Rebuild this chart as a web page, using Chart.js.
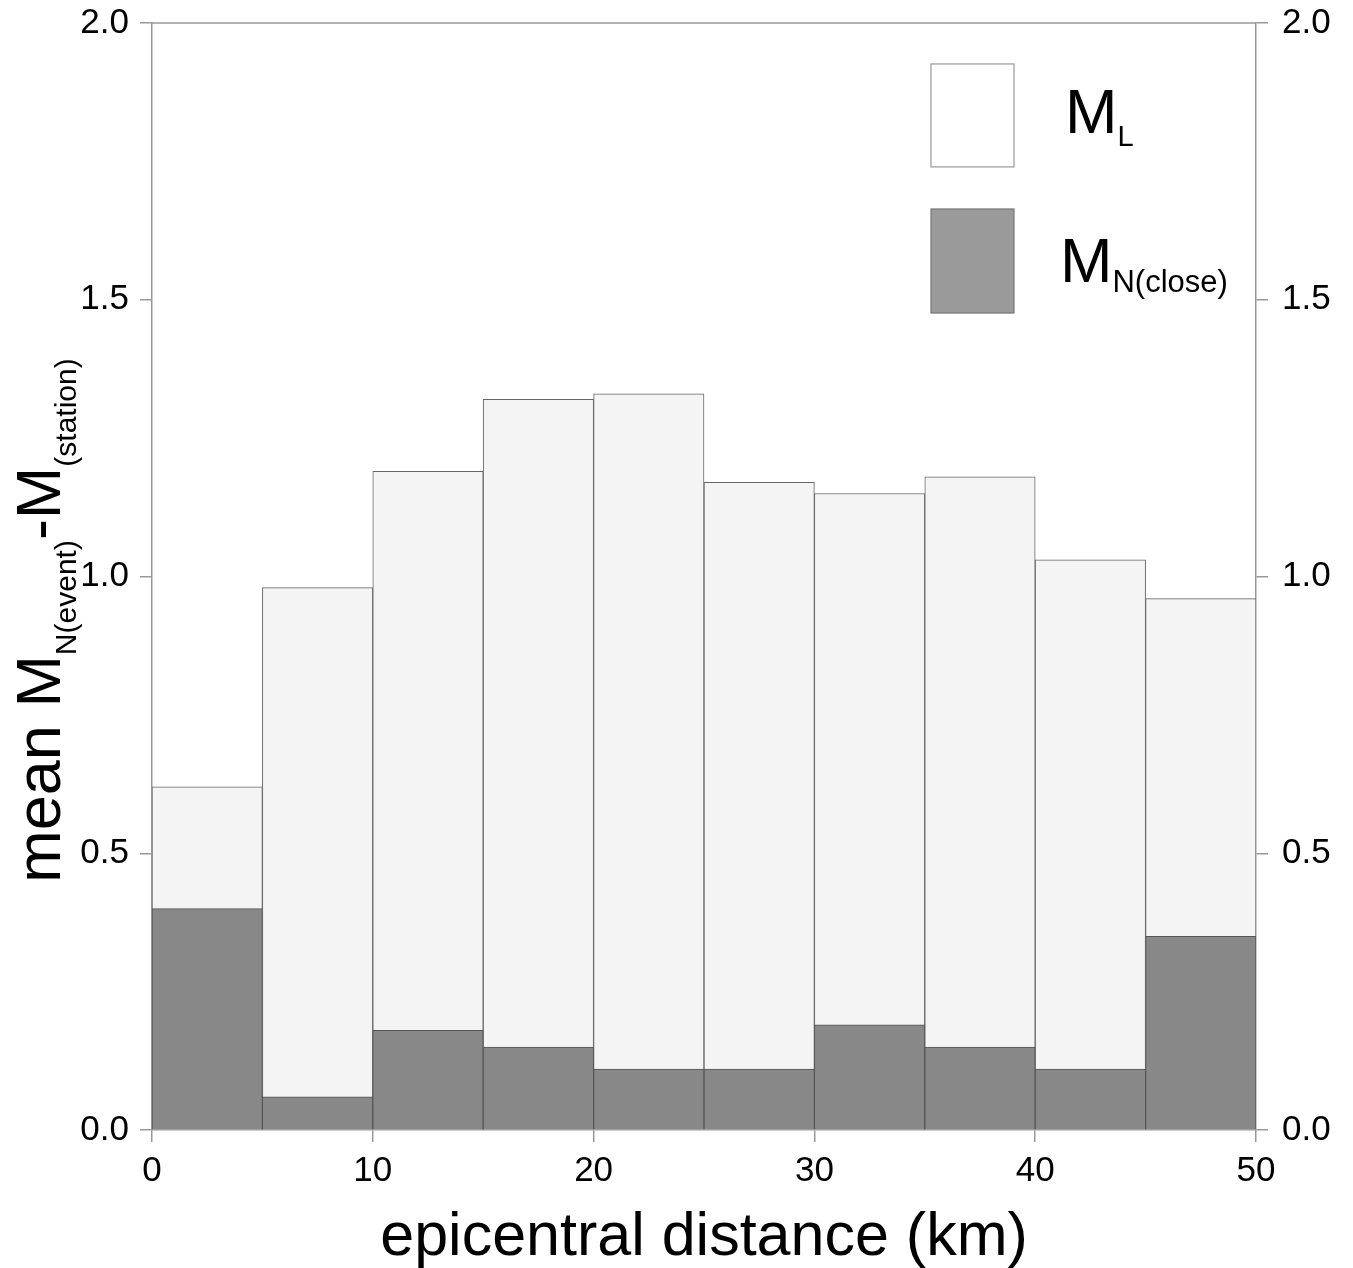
<!DOCTYPE html>
<html>
<head>
<meta charset="utf-8">
<script src="https://cdn.jsdelivr.net/npm/chart.js@4/dist/chart.umd.min.js"></script>
<style>
  html, body { margin: 0; padding: 0; background: #fff; }
  #chart { display: block; }
</style>
</head>
<body>
<canvas id="chart" width="1353" height="1268"></canvas>
<script>
// bin centres (km), 5 km wide bins
const distanceBins = [2.5, 7.5, 12.5, 17.5, 22.5, 27.5, 32.5, 37.5, 42.5, 47.5];
// mean M_N(event) - M_(station) per bin
const mlValues = [0.62, 0.98, 1.19, 1.32, 1.33, 1.17, 1.15, 1.18, 1.03, 0.96];
const mnCloseValues = [0.40, 0.06, 0.18, 0.15, 0.11, 0.11, 0.19, 0.15, 0.11, 0.35];
// axis ticks
const xTicks = [0, 10, 20, 30, 40, 50];
const yTicks = [0, 0.5, 1.0, 1.5, 2.0];

const FONT = "'Liberation Sans', Arial, sans-serif";
const AXIS_COLOR = '#999';
const TEXT_COLOR = '#000';

// draw text with a lowered subscript part
function drawSub(ctx, x, y, parts) {
    let cx = x;
    parts.forEach(p => {
        ctx.font = p.size + 'px ' + FONT;
        ctx.fillText(p.text, cx, y + (p.dy || 0));
        cx += ctx.measureText(p.text).width;
    });
}
function partsWidth(ctx, parts) {
    return parts.reduce((w, p) => {
        ctx.font = p.size + 'px ' + FONT;
        return w + ctx.measureText(p.text).width;
    }, 0);
}

// frame top line, axis titles with subscripts, legend
const decorations = {
    id: 'decorations',
    afterDraw(chart) {
        const ctx = chart.ctx;
        const a = chart.chartArea;
        const w = a.right - a.left, h = a.bottom - a.top;
        ctx.save();

        // top frame line
        ctx.strokeStyle = AXIS_COLOR;
        ctx.lineWidth = 1.5;
        ctx.beginPath();
        ctx.moveTo(a.left, a.top);
        ctx.lineTo(a.right, a.top);
        ctx.stroke();

        // x axis title
        ctx.fillStyle = TEXT_COLOR;
        ctx.textBaseline = 'alphabetic';
        ctx.textAlign = 'center';
        ctx.font = '61px ' + FONT;
        ctx.fillText('epicentral distance (km)', (a.left + a.right) / 2, a.bottom + 125);
        ctx.textAlign = 'left';

        // y axis title
        const title = [
            { text: 'mean M', size: 63 },
            { text: 'N(event)', size: 30, dy: 16 },
            { text: '-M', size: 63 },
            { text: '(station)', size: 30, dy: 16 }
        ];
        const tw = partsWidth(ctx, title);
        ctx.translate(60, (a.top + a.bottom) / 2 + 44);
        ctx.rotate(-Math.PI / 2);
        drawSub(ctx, -tw / 2, 0, title);
        ctx.setTransform(1, 0, 0, 1, 0, 0);

        // legend
        const bx = a.left + 0.7056 * w, bw = 0.0752 * w;
        const boxes = [
            { top: 0.037, bottom: 0.130, fill: '#ffffff', stroke: '#999',
              parts: [{ text: 'M', size: 63 }, { text: 'L', size: 29, dy: 13 }], base: 133 - 23 },
            { top: 0.168, bottom: 0.262, fill: '#9a9a9a', stroke: '#777',
              parts: [{ text: 'M', size: 63 }, { text: 'N(close)', size: 31, dy: 10 }], base: 282 - 23 }
        ];
        boxes.forEach((b, i) => {
            const y0 = a.top + b.top * h, y1 = a.top + b.bottom * h;
            ctx.fillStyle = b.fill;
            ctx.fillRect(bx, y0, bw, y1 - y0);
            ctx.strokeStyle = b.stroke;
            ctx.lineWidth = 1.2;
            ctx.strokeRect(bx, y0, bw, y1 - y0);
            ctx.fillStyle = TEXT_COLOR;
            drawSub(ctx, bx + bw + (i === 0 ? 51 : 46), a.top + b.base, b.parts);
        });
        ctx.restore();
    }
};

// fixed axis sizes so the plot box sits where the original has it
const fitY = width => s => { s.width = width; s.paddingTop = 0; s.paddingBottom = 0; };

const ctx = document.getElementById('chart').getContext('2d');
new Chart(ctx, {
    type: 'bar',
    data: {
        datasets: [
            {
                label: 'M_N(close)',
                data: distanceBins.map((x, i) => ({ x: x, y: mnCloseValues[i] })),
                backgroundColor: '#888888',
                borderColor: '#555',
                borderWidth: 1,
                order: 0
            },
            {
                label: 'M_L',
                data: distanceBins.map((x, i) => ({ x: x, y: mlValues[i] })),
                backgroundColor: '#f4f4f4',
                borderColor: '#666',
                borderWidth: 1,
                order: 1
            }
        ]
    },
    options: {
        responsive: false,
        animation: false,
        grouped: false,
        barPercentage: 1,
        categoryPercentage: 1,
        layout: { padding: { top: 23, left: 0, right: 0, bottom: 0 } },
        plugins: { legend: { display: false }, tooltip: { enabled: false } },
        scales: {
            x: {
                type: 'linear',
                min: 0, max: 50,
                offset: false,
                afterFit: s => { s.height = 138; s.paddingLeft = 0; s.paddingRight = 0; },
                afterBuildTicks: s => { s.ticks = xTicks.map(v => ({ value: v })); },
                grid: { offset: false, drawOnChartArea: false, tickLength: 12, color: AXIS_COLOR, lineWidth: 1.5 },
                border: { color: AXIS_COLOR, width: 1.5 },
                ticks: { color: TEXT_COLOR, font: { family: FONT, size: 35 }, padding: 8, maxRotation: 0 }
            },
            y: {
                position: 'left',
                min: 0, max: 2,
                afterFit: fitY(152),
                afterBuildTicks: s => { s.ticks = yTicks.map(v => ({ value: v })); },
                grid: { drawOnChartArea: false, tickLength: 12, color: AXIS_COLOR, lineWidth: 1.5 },
                border: { color: AXIS_COLOR, width: 1.5 },
                ticks: { color: TEXT_COLOR, font: { family: FONT, size: 35 }, padding: 11, callback: v => v.toFixed(1) }
            },
            y2: {
                position: 'right',
                min: 0, max: 2,
                afterFit: fitY(97),
                afterBuildTicks: s => { s.ticks = yTicks.map(v => ({ value: v })); },
                grid: { drawOnChartArea: false, tickLength: 12, color: AXIS_COLOR, lineWidth: 1.5 },
                border: { color: AXIS_COLOR, width: 1.5 },
                ticks: { color: TEXT_COLOR, font: { family: FONT, size: 35 }, padding: 14, callback: v => v.toFixed(1) }
            }
        }
    },
    plugins: [decorations]
});
</script>
</body>
</html>
